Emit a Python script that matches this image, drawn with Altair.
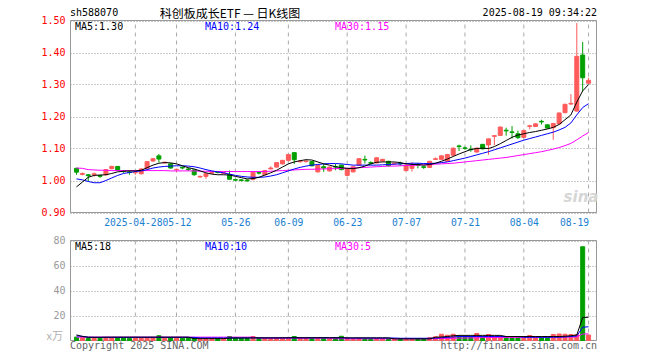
import altair as alt
import pandas as pd

# ---------------- data ----------------
dates = [
    "2025-04-14", "2025-04-15", "2025-04-16", "2025-04-17", "2025-04-18", "2025-04-21", "2025-04-22", "2025-04-23", "2025-04-24", "2025-04-25",
    "2025-04-28", "2025-04-29", "2025-04-30", "2025-05-06", "2025-05-07", "2025-05-08", "2025-05-09", "2025-05-12", "2025-05-13", "2025-05-14",
    "2025-05-15", "2025-05-16", "2025-05-19", "2025-05-20", "2025-05-21", "2025-05-22", "2025-05-23", "2025-05-26", "2025-05-27", "2025-05-28",
    "2025-05-29", "2025-05-30", "2025-06-03", "2025-06-04", "2025-06-05", "2025-06-06", "2025-06-09", "2025-06-10", "2025-06-11", "2025-06-12",
    "2025-06-13", "2025-06-16", "2025-06-17", "2025-06-18", "2025-06-19", "2025-06-20", "2025-06-23", "2025-06-24", "2025-06-25", "2025-06-26",
    "2025-06-27", "2025-06-30", "2025-07-01", "2025-07-02", "2025-07-03", "2025-07-04", "2025-07-07", "2025-07-08", "2025-07-09", "2025-07-10",
    "2025-07-11", "2025-07-14", "2025-07-15", "2025-07-16", "2025-07-17", "2025-07-18", "2025-07-21", "2025-07-22", "2025-07-23", "2025-07-24",
    "2025-07-25", "2025-07-28", "2025-07-29", "2025-07-30", "2025-07-31", "2025-08-01", "2025-08-04", "2025-08-05", "2025-08-06", "2025-08-07",
    "2025-08-08", "2025-08-11", "2025-08-12", "2025-08-13", "2025-08-14", "2025-08-15", "2025-08-18", "2025-08-19",
]

opens = [
    1.038, 1.019, 1.018, 1.018, 1.016, 1.018, 1.037, 1.044, 1.030, 1.027,
    1.024, 1.021, 1.038, 1.061, 1.077, 1.055, 1.052, 1.034, 1.041, 1.036,
    1.033, 1.011, 1.013, 1.023, 1.027, 1.022, 1.018, 1.003, 1.002, 1.001,
    1.004, 1.025, 1.018, 1.036, 1.042, 1.052, 1.063, 1.087, 1.059, 1.059,
    1.059, 1.027, 1.043, 1.030, 1.044, 1.048, 1.016, 1.027, 1.048, 1.066,
    1.056, 1.055, 1.061, 1.060, 1.052, 1.054, 1.031, 1.038, 1.049, 1.043,
    1.041, 1.066, 1.066, 1.060, 1.079, 1.108, 1.102, 1.098, 1.089, 1.113,
    1.111, 1.138, 1.141, 1.157, 1.152, 1.146, 1.135, 1.169, 1.169, 1.185,
    1.174, 1.165, 1.177, 1.212, 1.239, 1.217, 1.392, 1.304,
]
closes = [
    1.026, 1.022, 1.015, 1.021, 1.013, 1.034, 1.044, 1.031, 1.028, 1.025,
    1.026, 1.036, 1.059, 1.068, 1.067, 1.057, 1.039, 1.035, 1.039, 1.034,
    1.018, 1.013, 1.021, 1.025, 1.025, 1.024, 1.004, 1.001, 1.000, 0.999,
    1.026, 1.023, 1.031, 1.039, 1.056, 1.063, 1.081, 1.065, 1.061, 1.061,
    1.046, 1.047, 1.039, 1.042, 1.042, 1.034, 1.036, 1.043, 1.068, 1.064,
    1.054, 1.071, 1.066, 1.046, 1.054, 1.052, 1.048, 1.046, 1.047, 1.041,
    1.060, 1.068, 1.077, 1.081, 1.101, 1.106, 1.100, 1.096, 1.101, 1.099,
    1.130, 1.140, 1.167, 1.155, 1.150, 1.134, 1.156, 1.171, 1.177, 1.183,
    1.164, 1.178, 1.211, 1.238, 1.241, 1.388, 1.321, 1.313,
]
highs = [
    1.040, 1.025, 1.019, 1.025, 1.017, 1.036, 1.046, 1.045, 1.032, 1.030,
    1.030, 1.038, 1.060, 1.070, 1.083, 1.059, 1.053, 1.036, 1.044, 1.040,
    1.035, 1.015, 1.022, 1.027, 1.029, 1.026, 1.031, 1.005, 1.004, 1.004,
    1.028, 1.028, 1.033, 1.044, 1.057, 1.064, 1.083, 1.088, 1.063, 1.063,
    1.060, 1.048, 1.052, 1.044, 1.052, 1.049, 1.038, 1.044, 1.069, 1.078,
    1.060, 1.072, 1.068, 1.061, 1.056, 1.059, 1.050, 1.058, 1.055, 1.046,
    1.061, 1.072, 1.079, 1.083, 1.103, 1.112, 1.106, 1.110, 1.103, 1.114,
    1.131, 1.142, 1.168, 1.165, 1.170, 1.156, 1.157, 1.174, 1.178, 1.190,
    1.176, 1.180, 1.212, 1.240, 1.270, 1.492, 1.433, 1.321,
]
lows = [
    1.018, 1.016, 0.998, 1.012, 1.008, 1.015, 1.035, 1.030, 1.024, 1.018,
    1.018, 1.019, 1.036, 1.058, 1.056, 1.053, 1.037, 1.026, 1.035, 1.030,
    1.015, 1.009, 1.005, 1.021, 1.022, 1.020, 1.003, 0.998, 0.997, 0.996,
    1.000, 1.019, 1.016, 1.035, 1.040, 1.050, 1.060, 1.052, 1.055, 1.056,
    1.044, 1.025, 1.027, 1.028, 1.032, 1.032, 1.014, 1.025, 1.046, 1.053,
    1.050, 1.053, 1.058, 1.044, 1.048, 1.045, 1.029, 1.028, 1.038, 1.036,
    1.039, 1.064, 1.064, 1.058, 1.077, 1.092, 1.096, 1.090, 1.087, 1.097,
    1.080, 1.110, 1.139, 1.140, 1.131, 1.130, 1.133, 1.160, 1.167, 1.175,
    1.162, 1.127, 1.175, 1.210, 1.236, 1.215, 1.279, 1.302,
]
ma5 = [
    0.980, 0.995, 1.010, 1.016, 1.017, 1.018, 1.022, 1.027, 1.029, 1.030,
    1.030, 1.032, 1.040, 1.048, 1.054, 1.056, 1.055, 1.052, 1.046, 1.040,
    1.036, 1.030, 1.024, 1.020, 1.018, 1.018, 1.017, 1.013, 1.009, 1.005,
    1.006, 1.010, 1.017, 1.024, 1.032, 1.042, 1.052, 1.058, 1.062, 1.065,
    1.064, 1.058, 1.052, 1.048, 1.043, 1.040, 1.038, 1.037, 1.040, 1.045,
    1.052, 1.057, 1.058, 1.058, 1.058, 1.056, 1.052, 1.050, 1.050, 1.048,
    1.050, 1.054, 1.060, 1.067, 1.075, 1.083, 1.090, 1.097, 1.100, 1.101,
    1.100, 1.106, 1.115, 1.125, 1.135, 1.142, 1.146, 1.150, 1.153, 1.157,
    1.161, 1.166, 1.175, 1.190, 1.205, 1.245, 1.280, 1.300,
]
ma10 = [
    1.005, 1.002, 0.997, 0.993, 0.993, 1.000, 1.008, 1.016, 1.022, 1.025,
    1.028, 1.030, 1.034, 1.039, 1.042, 1.044, 1.045, 1.046, 1.046, 1.045,
    1.043, 1.039, 1.034, 1.030, 1.027, 1.024, 1.020, 1.016, 1.013, 1.011,
    1.010, 1.010, 1.011, 1.014, 1.018, 1.024, 1.030, 1.036, 1.041, 1.045,
    1.048, 1.050, 1.052, 1.053, 1.053, 1.052, 1.050, 1.048, 1.048, 1.048,
    1.048, 1.048, 1.049, 1.050, 1.051, 1.052, 1.053, 1.054, 1.054, 1.053,
    1.053, 1.054, 1.056, 1.058, 1.062, 1.066, 1.070, 1.075, 1.080, 1.085,
    1.090, 1.096, 1.102, 1.108, 1.114, 1.120, 1.126, 1.131, 1.136, 1.141,
    1.146, 1.151, 1.158, 1.166, 1.180, 1.205, 1.228, 1.240,
]
ma30 = [
    1.039, 1.038, 1.034, 1.033, 1.032, 1.032, 1.031, 1.031, 1.031, 1.031,
    1.031, 1.031, 1.031, 1.031, 1.031, 1.031, 1.030, 1.030, 1.030, 1.030,
    1.030, 1.029, 1.029, 1.028, 1.028, 1.028, 1.028, 1.028, 1.028, 1.028,
    1.028, 1.028, 1.028, 1.029, 1.030, 1.031, 1.032, 1.033, 1.034, 1.035,
    1.035, 1.036, 1.036, 1.037, 1.037, 1.038, 1.038, 1.039, 1.040, 1.041,
    1.042, 1.043, 1.044, 1.045, 1.045, 1.046, 1.047, 1.047, 1.048, 1.049,
    1.050, 1.051, 1.052, 1.053, 1.054, 1.056, 1.058, 1.060, 1.062, 1.064,
    1.066, 1.068, 1.070, 1.072, 1.075, 1.078, 1.081, 1.084, 1.087, 1.090,
    1.094, 1.098, 1.103, 1.109, 1.116, 1.127, 1.139, 1.150,
]
vols = [
    2.7, 2.2, 1.6, 2.0, 1.8, 2.2, 2.0, 2.4, 2.0, 1.8,
    2.0, 2.2, 2.4, 2.2, 3.8, 2.0, 2.2, 2.0, 1.8, 2.0,
    2.4, 1.5, 1.6, 1.4, 1.5, 1.5, 3.2, 2.0, 1.8, 1.6,
    3.2, 1.8, 2.0, 1.8, 2.2, 2.4, 2.4, 3.2, 2.2, 2.0,
    1.8, 2.4, 2.2, 1.8, 2.4, 3.4, 2.0, 1.6, 1.8, 1.6,
    1.4, 1.6, 1.6, 1.4, 1.2, 1.4, 1.6, 1.5, 1.4, 1.2,
    2.2, 3.0, 5.0, 4.2, 5.0, 3.6, 3.4, 3.2, 5.6, 3.2,
    4.8, 3.4, 3.2, 3.0, 3.0, 2.8, 3.0, 4.0, 3.0, 2.8,
    3.0, 4.8, 5.2, 5.0, 4.8, 4.6, 75.0, 4.4,
]
vma5 = [
    4.5, 3.2, 2.7, 2.6, 2.6, 2.7, 2.7, 2.7, 2.7, 2.7,
    2.7, 2.7, 2.7, 2.7, 2.7, 2.7, 2.7, 2.7, 2.7, 2.7,
    1.5, 1.5, 1.5, 1.5, 1.5, 1.5, 1.9, 2.0, 2.0, 2.0,
    2.1, 2.1, 2.1, 2.1, 2.1, 2.1, 2.2, 2.2, 2.2, 2.2,
    2.2, 2.2, 2.2, 2.2, 2.2, 2.2, 2.1, 2.1, 2.1, 2.1,
    2.1, 2.1, 2.1, 2.1, 1.3, 1.3, 1.3, 1.3, 1.3, 1.3,
    1.3, 2.6, 2.8, 3.2, 3.8, 4.1, 4.1, 4.1, 4.1, 4.1,
    4.1, 4.1, 4.1, 3.2, 3.2, 3.2, 3.2, 3.2, 3.2, 3.2,
    3.2, 3.2, 3.2, 3.4, 3.8, 4.4, 18.4, 18.6,
]
vma10 = [
    3.7, 3.4, 2.5, 2.5, 2.5, 2.5, 2.5, 2.5, 2.5, 2.5,
    2.5, 2.5, 2.5, 2.5, 2.5, 2.5, 2.5, 2.5, 2.5, 2.5,
    2.5, 2.1, 2.1, 2.1, 2.1, 2.1, 2.1, 2.1, 2.1, 2.1,
    2.1, 2.1, 2.1, 2.1, 2.1, 2.1, 2.1, 2.1, 2.1, 2.1,
    2.1, 2.2, 2.2, 2.2, 2.2, 2.2, 2.0, 2.0, 2.0, 2.0,
    2.0, 2.0, 2.0, 2.0, 2.0, 1.8, 1.8, 1.8, 1.8, 1.8,
    1.8, 1.9, 2.2, 2.5, 2.8, 3.2, 3.2, 3.2, 3.2, 3.2,
    3.2, 3.2, 3.2, 3.2, 3.2, 3.2, 2.6, 2.6, 2.6, 2.6,
    2.6, 2.6, 2.7, 2.9, 3.2, 3.6, 10.6, 11.0,
]
vma30 = [
    2.7, 2.7, 2.7, 2.7, 2.7, 2.7, 2.7, 2.7, 2.7, 2.7,
    2.7, 2.7, 2.7, 2.7, 2.7, 2.7, 2.7, 2.7, 2.7, 2.7,
    2.7, 2.7, 2.7, 2.7, 2.7, 2.7, 2.7, 2.7, 2.7, 2.7,
    2.7, 1.9, 1.9, 1.9, 1.9, 1.9, 1.9, 1.9, 1.9, 1.9,
    1.9, 1.9, 1.9, 1.9, 1.4, 1.4, 1.4, 1.4, 1.4, 1.4,
    1.4, 1.4, 1.4, 1.4, 1.4, 1.4, 1.4, 1.4, 1.4, 1.4,
    1.4, 1.5, 1.6, 1.7, 1.8, 1.9, 2.0, 2.1, 2.2, 2.3,
    2.4, 2.4, 2.5, 2.5, 2.5, 2.5, 2.6, 2.6, 2.6, 2.6,
    2.6, 2.7, 2.7, 2.8, 2.8, 2.9, 5.2, 5.3,
]

tick_dates = ["2025-04-28", "2025-05-12", "2025-05-26", "2025-06-09", "2025-06-23",
              "2025-07-07", "2025-07-21", "2025-08-04", "2025-08-19"]
tick_labels = ["2025-04-28", "05-12", "05-26", "06-09", "06-23", "07-07", "07-21", "08-04", "08-19"]
price_ticks = [0.90, 1.00, 1.10, 1.20, 1.30, 1.40, 1.50]
vol_ticks = [20, 40, 60, 80]

# ---------------- tables ----------------
df = pd.DataFrame({
    "i": list(range(len(dates))), "date": dates,
    "open": opens, "high": highs, "low": lows, "close": closes,
    "vol": vols, "ma5": ma5, "ma10": ma10, "ma30": ma30,
    "vma5": vma5, "vma10": vma10, "vma30": vma30,
})
df["dir"] = ["up" if c >= o else "down" for o, c in zip(opens, closes)]
tick_idx = [dates.index(d) for d in tick_dates]
ticks_df = pd.DataFrame({"i": tick_idx})

# ---------------- styles ----------------
MONO = "DejaVu Sans Mono"
RED, GREEN = "#ff5b5b", "#00a000"
W, H = 527, 320

label_expr = ("[" + ",".join(f"'{t}'" for t in tick_labels) + "][indexof(["
              + ",".join(str(v) for v in tick_idx) + "], datum.value)]")

x_scale = alt.Scale(domain=[-0.25, (W - 1.5) / 6], nice=False, zero=False)
x_axis = alt.Axis(values=tick_idx, labelExpr=label_expr, grid=False, ticks=False, domain=False,
                  orient="bottom", offset=-128, labelFont=MONO, labelFontSize=9.7,
                  labelColor="#1a80d0", labelPadding=5, labelOverlap=False, labelFlush=False,
                  labelAlign={"condition": {"test": f"datum.value == {tick_idx[-1]}", "value": "right"},
                              "value": "center"},
                  labelOffset={"condition": {"test": f"datum.value == {tick_idx[0]}", "value": -2.5},
                               "value": 0},
                  title=None)

price_scale = alt.Scale(domain=[0.9, 1.5], range=[192.5, 0.5], nice=False, zero=False)
price_axis = alt.Axis(values=price_ticks, format=".2f", grid=True, gridColor="#999999",
                      gridDash=[1, 2], ticks=False, domain=False, labelColor="#ff0000",
                      labelFont=MONO, labelFontSize=10, labelPadding=5, orient="left", title=None)
vol_scale = alt.Scale(domain=[0, 80], range=[320.5, 220.5], nice=False, zero=False)
vol_axis = alt.Axis(values=vol_ticks, grid=True, gridColor="#999999", gridDash=[1, 2],
                    ticks=False, domain=False, labelColor="#999999", labelFont=MONO,
                    labelFontSize=10, labelPadding=5, orient="left", title=None)

color = alt.Color("dir:N", scale=alt.Scale(domain=["up", "down"], range=[RED, GREEN]), legend=None)
stroke = alt.Stroke("dir:N", scale=alt.Scale(domain=["up", "down"], range=[RED, GREEN]), legend=None)


def X():
    return alt.X("i:Q", scale=x_scale, axis=x_axis)


def PY(field):
    return alt.Y(f"{field}:Q", scale=price_scale, axis=price_axis)


def VY(field):
    return alt.Y(f"{field}:Q", scale=vol_scale, axis=vol_axis)


base = alt.Chart(df)

# ---------------- price panel ----------------
p_grid = alt.Chart(ticks_df).mark_rule(color="#aaaaaa", strokeDash=[4, 4], strokeWidth=1).encode(
    x=X(), y=alt.Y(datum=0.9, scale=price_scale, axis=price_axis), y2=alt.Y2(datum=1.5))
p_frame = alt.Chart(alt.Data(values=[{}])).mark_rect(fillOpacity=0, stroke="#999999", strokeWidth=1).encode(
    x=alt.value(0.5), x2=alt.value(W - 0.5),
    y=alt.Y(datum=0.9, scale=price_scale, axis=price_axis), y2=alt.Y2(datum=1.5))
wicks = base.mark_rule(strokeWidth=1).encode(x=X(), y=PY("low"), y2=alt.Y2("high:Q"), color=color)
bodies = base.mark_bar(size=4, strokeWidth=1).encode(x=X(), y=PY("open"), y2=alt.Y2("close:Q"),
                                                      color=color, stroke=stroke)
l30 = base.mark_line(color="#ff00ff", strokeWidth=1).encode(x=X(), y=PY("ma30"))
l10 = base.mark_line(color="#0000ff", strokeWidth=1).encode(x=X(), y=PY("ma10"))
l5 = base.mark_line(color="#000000", strokeWidth=1).encode(x=X(), y=PY("ma5"))
price = alt.layer(p_grid, p_frame, wicks, bodies, l30, l10, l5)

# ---------------- volume panel ----------------
v_grid = alt.Chart(ticks_df).mark_rule(color="#aaaaaa", strokeDash=[4, 4], strokeWidth=1).encode(
    x=X(), y=alt.Y(datum=0, scale=vol_scale, axis=vol_axis), y2=alt.Y2(datum=80))
v_frame = alt.Chart(alt.Data(values=[{}])).mark_rect(fillOpacity=0, stroke="#999999", strokeWidth=1).encode(
    x=alt.value(0.5), x2=alt.value(W - 0.5),
    y=alt.Y(datum=0, scale=vol_scale, axis=vol_axis), y2=alt.Y2(datum=80))
vbars = base.mark_bar(size=4, strokeWidth=1).encode(x=X(), y=VY("vol"), y2=alt.Y2(datum=0),
                                                     color=color, stroke=stroke)
v30 = base.mark_line(color="#ff00ff", strokeWidth=1).encode(x=X(), y=VY("vma30"))
v10 = base.mark_line(color="#0000ff", strokeWidth=1).encode(x=X(), y=VY("vma10"))
v5 = base.mark_line(color="#000000", strokeWidth=1).encode(x=X(), y=VY("vma5"))
volume = alt.layer(v_grid, v_frame, vbars, v30, v10, v5)


# ---------------- texts ----------------
def note(text, x, y, color="#000000", align="left", size=10, font=MONO, baseline="alphabetic", **kw):
    return alt.Chart(alt.Data(values=[{"t": text}])).mark_text(
        align=align, baseline=baseline, font=font, fontSize=size, color=color, **kw
    ).encode(x=alt.value(x), y=alt.value(y), text="t:N")


notes = [
    note("sh588070", 0, -4),
    note("科创板成长ETF — 日K线图", 160, -11.5, size=12, font="Noto Sans CJK SC", align="center",
         baseline="top"),
    note("2025-08-19 09:34:22", W, -4, align="right"),
    note("MA5:1.30", 5, 10),
    note("MA10:1.24", 135, 10, color="#0000ff"),
    note("MA30:1.15", 265, 10, color="#ff00ff"),
    note("MA5:18", 5, 229.5),
    note("MA10:10", 135, 229.5, color="#0000ff"),
    note("MA30:5", 265, 229.5, color="#ff00ff"),
    note("x万", -7, 320, color="#b0b0b0", align="right", size=11, font="Noto Sans CJK SC"),
    note("Copyright 2025 SINA.COM", 0, 329, color="#666666"),
    note("http://finance.sina.com.cn", W, 329, color="#666666", align="right"),
    note("sina", 511, 182, color="#d6d6d6", align="center", size=15, font="DejaVu Sans",
         fontStyle="italic", fontWeight="bold"),
]

chart = alt.layer(price, volume, *notes).resolve_scale(y="independent").properties(
    width=W, height=H,
    padding={"left": 62, "top": 12, "right": 55, "bottom": 12},
    autosize=alt.AutoSizeParams(type="none"),
    background="white",
).configure_view(stroke=None)

chart.save("out.html", embed_options={"renderer": "svg", "actions": False})
